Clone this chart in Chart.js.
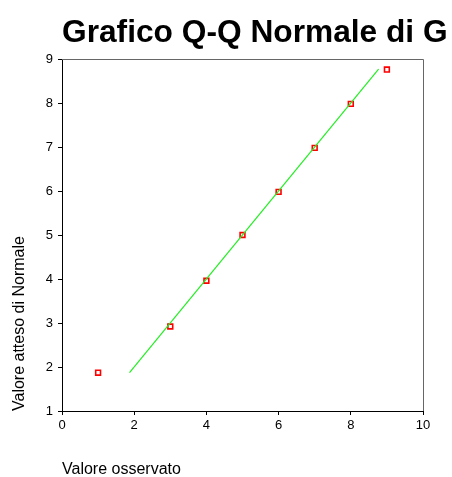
<!DOCTYPE html>
<html>
<head>
<meta charset="utf-8">
<script src="https://cdn.jsdelivr.net/npm/chart.js@4"></script>
<style>
  body { margin: 0; background: #fff; }
  canvas { display: block; }
</style>
</head>
<body>
<canvas id="qqChart" width="452" height="477"></canvas>
<script>
// values
const observed = [1, 3, 4, 5, 6, 7, 8, 9];
const expectedNormal = [1.87, 2.92, 3.96, 5.0, 5.98, 6.98, 7.98, 8.76];
const refLineX = [1.87, 8.77];
const refLineY = [1.87, 8.77];
const xTicks = [0, 2, 4, 6, 8, 10];
const yTicks = [1, 2, 3, 4, 5, 6, 7, 8, 9];

const chartTitle = 'Grafico Q-Q Normale di G';
const fontFamily = "'Liberation Sans', Arial, Helvetica, sans-serif";

// title sits left-aligned with the plot area, like the original output
const titlePlugin = {
    id: 'titleAt',
    afterDraw(chart) {
        const ctx = chart.ctx;
        ctx.save();
        ctx.font = 'bold 31.7px ' + fontFamily;
        ctx.fillStyle = '#000';
        ctx.textAlign = 'left';
        ctx.textBaseline = 'alphabetic';
        ctx.fillText(chartTitle, chart.chartArea.left, 42);
        ctx.restore();
    }
};

// grey frame on top and right of the plot
const framePlugin = {
    id: 'frame',
    beforeDatasetsDraw(chart) {
        const { left, right, top, bottom } = chart.chartArea;
        const ctx = chart.ctx;
        ctx.save();
        ctx.strokeStyle = '#666';
        ctx.lineWidth = 1;
        ctx.beginPath();
        ctx.moveTo(left, Math.round(top) + 0.5);
        ctx.lineTo(Math.round(right) + 0.5, Math.round(top) + 0.5);
        ctx.lineTo(Math.round(right) + 0.5, bottom);
        ctx.stroke();
        ctx.restore();
    }
};

const ctx = document.getElementById('qqChart').getContext('2d');
new Chart(ctx, {
    type: 'scatter',
    data: {
        datasets: [
            {
                label: 'Linea',
                data: refLineX.map((x, i) => ({ x: x, y: refLineY[i] })),
                showLine: true,
                borderColor: '#22ee22',
                borderWidth: 1.2,
                pointRadius: 0,
                fill: false
            },
            {
                label: 'Osservati',
                data: observed.map((x, i) => ({ x: x, y: expectedNormal[i] })),
                pointStyle: 'rect',
                pointRadius: 3.4,
                pointBorderWidth: 1.6,
                borderColor: '#ff0000',
                backgroundColor: '#ffffff'
            }
        ]
    },
    options: {
        responsive: false,
        animation: false,
        layout: { padding: { left: 0, right: 29, top: 59, bottom: 0 } },
        plugins: {
            legend: { display: false },
            tooltip: { enabled: false }
        },
        scales: {
            x: {
                type: 'linear',
                min: 0,
                max: 10,
                afterBuildTicks: (scale) => { scale.ticks = xTicks.map(v => ({ value: v })); },
                afterFit: (scale) => { scale.height = 66; },
                grid: { drawOnChartArea: false, drawTicks: true, tickLength: 4, tickColor: '#000' },
                border: { color: '#000', width: 1 },
                ticks: { color: '#000', padding: 3, font: { family: fontFamily, size: 13 } },
                title: {
                    display: true,
                    text: 'Valore osservato',
                    align: 'start',
                    color: '#000',
                    padding: { top: 0, bottom: -2 },
                    font: { family: fontFamily, size: 16 }
                }
            },
            y: {
                type: 'linear',
                min: 1,
                max: 9,
                afterBuildTicks: (scale) => { scale.ticks = yTicks.map(v => ({ value: v })); },
                afterFit: (scale) => { scale.width = 62; },
                grid: { drawOnChartArea: false, drawTicks: true, tickLength: 4, tickColor: '#000' },
                border: { color: '#000', width: 1 },
                ticks: { color: '#000', padding: 5, font: { family: fontFamily, size: 13 } },
                title: {
                    display: true,
                    text: 'Valore atteso di Normale',
                    align: 'start',
                    color: '#000',
                    padding: { top: 10, bottom: 0 },
                    font: { family: fontFamily, size: 16 }
                }
            }
        }
    },
    plugins: [titlePlugin, framePlugin]
});
</script>
</body>
</html>
